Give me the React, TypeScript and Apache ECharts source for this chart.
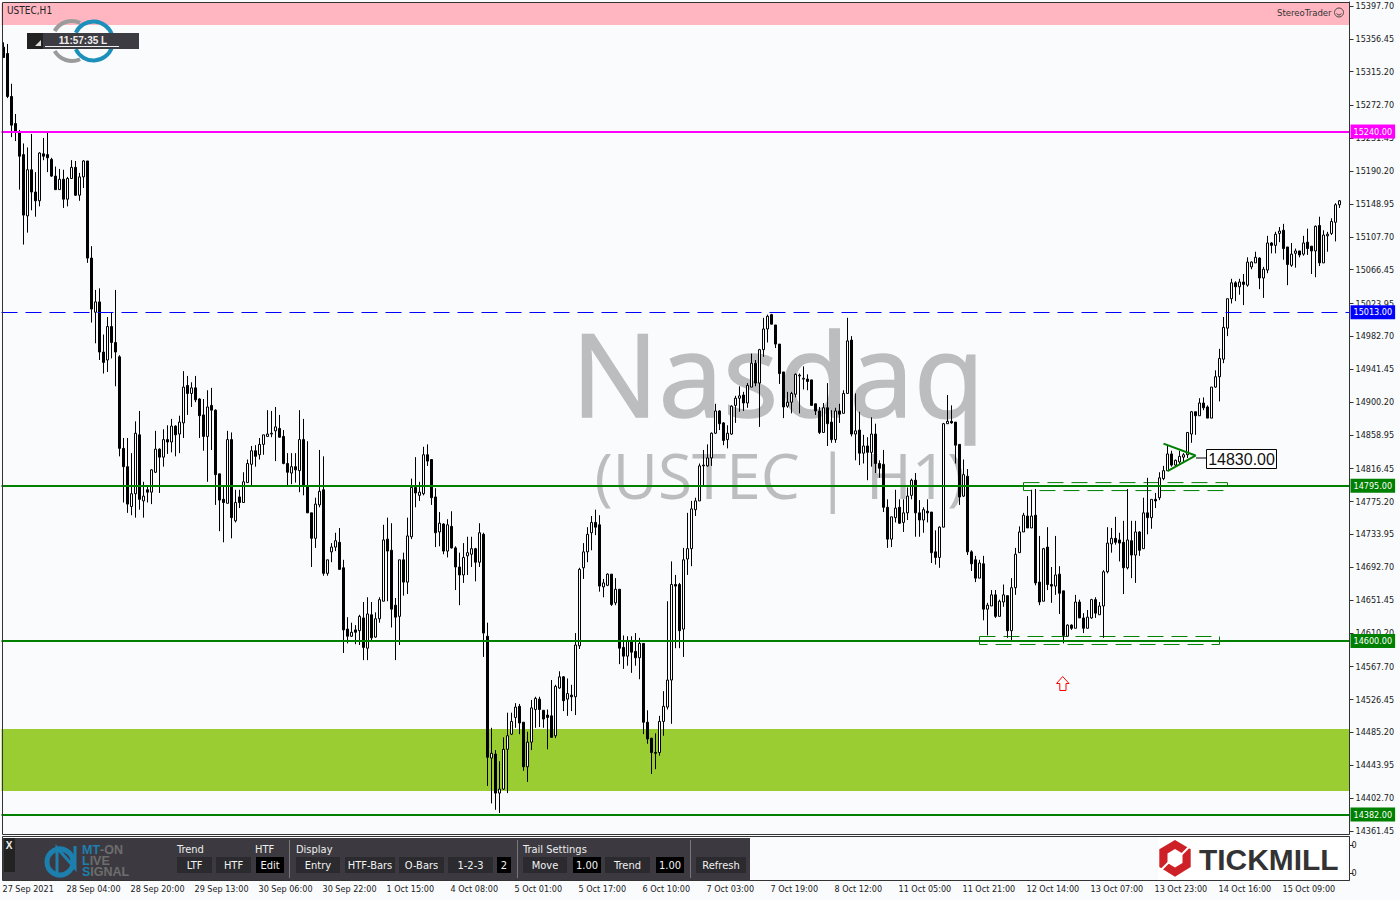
import React, { useEffect, useRef } from "react";
import * as echarts from "echarts";

// [open, close, low, high]
const candlesSep: number[][] = [
[15346,15333,15333,15352],[15338,15284,15282,15350],[15284,15248,15233,15300],[15250,15239,15228,15262],[15239,15209,15167,15242],
[15211,15135,15098,15225],[15134,15192,15113,15220],[15192,15164,15141,15237],[15164,15153,15133,15189],[15153,15213,15146,15214],
[15212,15209,15204,15232],[15211,15207,15189,15240],[15205,15184,15183,15207],[15184,15167,15167,15196],[15167,15180,15167,15193],
[15180,15155,15144,15192],[15155,15181,15146,15183],[15181,15195,15181,15204],[15195,15160,15159,15203],[15160,15183,15153,15188],
[15183,15203,15169,15204],[15203,15081,15075,15203],[15081,15017,15000,15096],[15013,15026,14974,15041],[15026,14963,14953,15043],
[14963,14950,14936,14985],[14953,14995,14938,15007],[14995,14975,14955,15013],[14975,14963,14920,15041],[14957,14842,14832,14959],
[14842,14819,14774,14855],[14819,14772,14761,14855],[14769,14785,14758,14836],[14785,14861,14755,14876],[14859,14778,14765,14889],
[14776,14782,14755,14800],[14790,14787,14774,14796],[14787,14815,14772,14816],[14812,14841,14811,14864],[14841,14831,14786,14842],
[14831,14853,14819,14866],[14853,14850,14835,14871],[14850,14870,14837,14879],[14870,14859,14832,14871],[14860,14875,14836,14883],
[14874,14919,14855,14939],[14921,14911,14884,14933],[14911,14918,14894,14925],[14918,14903,14900,14933],[14904,14883,14855,14905],
[14884,14857,14839,14904],[14857,14894,14800,14915],[14896,14890,14840,14918],[14890,14809,14771,14891],[14810,14777,14738,14810],
[14778,14774,14724,14795],[14773,14853,14773,14864],[14853,14755,14729,14862],[14751,14774,14749,14790],[14781,14774,14767,14790],
[14774,14800,14774,14812],[14799,14823,14799,14828],[14822,14839,14796,14845],[14839,14832,14819,14846],[14834,14847,14828,14855],
[14847,14859,14834,14859],[14857,14860,14857,14890],[14860,14861,14856,14889],[14864,14869,14826,14894],[14867,14856,14856,14884],
[14857,14823,14822,14865],[14823,14812,14796,14836],[14811,14819,14797,14836],[14819,14815,14799,14836],[14814,14853,14787,14890],
[14853,14795,14783,14879],[14795,14761,14761,14851],[14761,14729,14693,14761],[14729,14772,14717,14780],[14771,14788,14768,14840],
[14790,14685,14682,14832],[14685,14702,14682,14702],[14712,14718,14699,14723],[14718,14726,14713,14736],[14724,14690,14690,14742],
[14692,14614,14585,14702],[14615,14606,14597,14630],[14606,14611,14605,14623],[14614,14611,14596,14620],[14613,14631,14595,14633],
[14629,14592,14576,14649],[14591,14634,14576,14655],[14633,14604,14601,14649],[14605,14628,14604,14636],[14628,14652,14623,14655],
[14650,14727,14650,14746],[14728,14713,14650,14755],[14714,14640,14617,14748],[14645,14630,14576,14654],[14631,14702,14595,14702],
[14702,14674,14657,14711],[14674,14732,14659,14755],[14731,14793,14728,14804],[14793,14786,14768,14831],[14783,14787,14776,14800],
[14785,14834,14783,14844],[14834,14826,14820,14847],[14828,14780,14771,14828],[14781,14736,14718,14792],[14737,14748,14719,14762],
[14747,14713,14709,14748],[14713,14746,14705,14753],
];
const candlesOctEarly: number[][] = [
[14744,14717,14716,14763],[14717,14693,14664,14719],[14693,14683,14645,14711],[14683,14705,14673,14723],[14707,14711,14683,14731],
[14709,14716,14693,14731],[14716,14699,14675,14717],[14699,14736,14693,14748],[14734,14610,14580,14736],[14606,14454,14418,14623],
[14453,14459,14396,14491],[14458,14409,14388,14463],[14409,14414,14384,14449],[14414,14464,14413,14479],[14464,14481,14409,14510],
[14483,14499,14482,14510],[14504,14517,14491,14522],[14518,14497,14483,14521],[14498,14442,14437,14498],[14442,14473,14423,14486],
[14473,14516,14463,14526],[14514,14528,14491,14530],[14527,14514,14492,14530],[14513,14502,14491,14513],[14507,14504,14464,14514],
[14506,14479,14479,14551],[14481,14543,14478,14545],[14541,14555,14540,14562],[14555,14525,14512,14556],[14527,14534,14506,14553],
[14532,14530,14512,14545],[14530,14595,14507,14610],[14594,14690,14590,14692],[14692,14712,14678,14723],[14712,14734,14699,14743],
[14736,14749,14714,14757],[14749,14743,14733,14765],[14746,14669,14662,14758],[14668,14673,14655,14678],[14670,14684,14669,14685],
[14684,14646,14644,14684],[14648,14665,14645,14679],[14665,14591,14571,14665],[14592,14581,14565,14607],[14581,14600,14569,14606],
[14599,14586,14560,14606],[14587,14579,14569,14610],[14579,14597,14552,14604],[14597,14498,14483,14597],[14498,14477,14471,14513],
[14478,14460,14433,14478],[14460,14459,14439,14484],[14460,14499,14456,14506],[14499,14518,14481,14537],[14517,14551,14514,14650],
[14551,14671,14496,14700],[14671,14669,14591,14683],[14671,14613,14591,14673],[14615,14702,14580,14717],[14703,14716,14683,14761],
[14716,14766,14694,14776],[14765,14776,14757,14780],[14776,14820,14776,14823],[14820,14821,14796,14840],[14820,14830,14819,14847],
[14830,14861,14820,14862],[14861,14889,14860,14898],[14889,14873,14865,14890],[14874,14852,14846,14875],[14853,14861,14842,14871],
[14860,14895,14859,14896],[14896,14905,14874,14908],[14905,14908,14888,14920],[14909,14899,14889,14913],[14899,14921,14893,14924],
[14919,14949,14919,14961],[14949,14924,14920,14953],[14924,14966,14869,14967],[14966,14992,14957,15006],[14992,15008,14975,15010],
[15010,14998,14998,15011],[14997,14973,14968,14997],[14973,14936,14923,14973],[14938,14894,14880,14938],[14895,14900,14893,14913],
[14900,14911,14886,14913],[14910,14935,14906,14936],[14933,14934,14886,14936],[14929,14930,14916,14945],[14929,14926,14915,14935],
[14928,14896,14896,14928],[14898,14889,14884,14898],[14889,14862,14860,14894],[14862,14893,14862,14899],[14893,14873,14845,14924],
[14875,14853,14849,14890],[14853,14889,14849,14893],[14889,14885,14874,14898],[14886,14911,14886,14915],[14911,14977,14911,15006],
[14978,14860,14857,14983],[14860,14864,14827,14911],[14865,14836,14821,14888],[14836,14845,14823,14859],[14845,14837,14802,14856],
[14837,14860,14819,14881],[14860,14823,14811,14873],[14823,14817,14805,14827],[14822,14768,14762,14840],[14768,14728,14717,14778],
];
const candlesOctLate: number[][] = [
[14728,14756,14718,14756],[14755,14767,14749,14790],[14768,14748,14747,14778],[14749,14761,14737,14778],[14761,14782,14752,14793],
[14783,14802,14778,14804],[14802,14761,14731,14811],[14761,14752,14731,14777],[14752,14765,14736,14768],[14763,14761,14749,14778],
[14762,14711,14698,14762],[14712,14705,14696,14739],[14705,14743,14692,14744],[14743,14873,14743,14874],[14873,14876,14873,14909],
[14876,14874,14873,14896],[14875,14846,14823,14875],[14847,14781,14771,14847],[14782,14809,14781,14828],[14807,14712,14708,14816],
[14712,14697,14688,14714],[14702,14679,14674,14707],[14679,14698,14679,14702],[14697,14640,14626,14707],[14640,14645,14607,14648],
[14644,14658,14644,14664],[14658,14631,14629,14664],[14631,14650,14631,14652],[14649,14658,14643,14671],[14657,14613,14604,14657],
[14613,14667,14601,14679],[14667,14709,14658,14717],[14711,14737,14711,14744],[14737,14758,14737,14761],[14757,14742,14742,14782],
[14742,14757,14742,14790],[14758,14673,14670,14791],[14674,14649,14645,14732],[14650,14716,14650,14717],[14718,14671,14664,14743],
[14671,14669,14648,14693],[14669,14683,14658,14732],[14684,14660,14634,14694],[14663,14607,14597,14663],[14606,14620,14606,14621],
[14620,14616,14614,14621],[14616,14649,14616,14658],[14649,14629,14629,14652],[14629,14616,14610,14635],[14616,14630,14616,14639],
[14629,14652,14628,14653],[14652,14635,14629,14655],[14633,14644,14633,14649],[14644,14687,14604,14689],[14687,14723,14685,14743],
[14722,14729,14711,14742],[14729,14724,14721,14756],[14727,14723,14700,14736],[14724,14692,14659,14751],[14692,14727,14690,14791],
[14726,14708,14679,14751],[14708,14737,14673,14751],[14737,14714,14707,14738],[14716,14761,14716,14780],[14761,14755,14734,14805],
[14755,14778,14741,14778],[14778,14776,14767,14786],[14780,14805,14777,14812],[14804,14814,14802,14820],[14814,14835,14814,14846],
[14835,14821,14819,14839],[14821,14827,14819,14828],[14825,14832,14822,14839],[14831,14834,14825,14836],[14834,14862,14830,14862],
[14860,14888,14849,14889],[14888,14883,14859,14888],[14883,14899,14883,14905],[14899,14893,14890,14906],[14894,14880,14880,14896],
[14880,14919,14880,14919],[14919,14932,14918,14940],[14932,14955,14901,14967],[14954,14994,14949,15007],[14993,15030,14983,15030],
[15030,15050,15024,15055],[15050,15045,15027,15052],[15045,15051,15035,15055],[15051,15048,15022,15061],[15047,15076,15045,15082],
[15070,15076,15067,15077],[15075,15082,15075,15089],[15081,15056,15042,15082],[15056,15067,15031,15070],[15066,15100,15062,15109],
[15100,15097,15087,15101],[15097,15111,15087,15114],[15112,15115,15101,15120],[15116,15093,15079,15124],[15095,15073,15047,15095],
[15072,15086,15070,15100],[15087,15090,15069,15093],[15090,15085,15082,15090],[15086,15100,15084,15109],[15101,15093,15085,15118],
[15096,15090,15061,15096],[15090,15121,15057,15122],[15122,15075,15071,15133],[15075,15110,15075,15116],[15109,15111,15089,15114],
[15112,15127,15110,15131],[15126,15148,15102,15150],[15148,15153,15144,15154],
];
const timeLabels = ["27 Sep 2021","28 Sep 04:00","28 Sep 20:00","29 Sep 13:00","30 Sep 06:00","30 Sep 22:00","1 Oct 15:00","4 Oct 08:00","5 Oct 01:00","5 Oct 17:00","6 Oct 10:00","7 Oct 03:00","7 Oct 19:00","8 Oct 12:00","11 Oct 05:00","11 Oct 21:00","12 Oct 14:00","13 Oct 07:00","13 Oct 23:00","14 Oct 16:00","15 Oct 09:00"];
const priceTicks = [15397.70,15356.45,15315.20,15272.70,15231.45,15190.20,15148.95,15107.70,15066.45,15023.95,14982.70,14941.45,14900.20,14858.95,14816.45,14775.20,14733.95,14692.70,14651.45,14610.20,14567.70,14526.45,14485.20,14443.95,14402.70,14361.45];
const levelPrices = [15240, 15013, 14795, 14600, 14382];
const levelColors = ["#FF00FF", "#0000FF", "#008000", "#008000", "#008000"];
const patternX = [290, 298, 291];
const patternY = [14848, 14833, 14813.5];
const topBand = [15401.4, 15373.8];
const greenBand = [14489.5, 14411.6];
const boxTop = { xFrom: 255, xTo: 306, yFrom: 14799, yTo: 14789 };
const boxBottom = { xFrom: 244, xTo: 304, yFrom: 14605.7, yTo: 14595.6 };
const targetLabel = "14830.00";

const NARROW = "'DejaVu Sans Condensed','Liberation Sans',sans-serif";
const LIB = "'Liberation Sans'";
const BG = "#F9FBFD";
const TXT = "#1a1a1a";
const AX = 9;

const label = (x: number, y: number, text: string, fill: string, fontSize = 10, extra: any = {}) => ({
  type: "text", x, y, z: 100, silent: true,
  style: { text, fill, fontSize, fontFamily: NARROW, verticalAlign: "middle", ...extra },
});
const box = (x: number, y: number, width: number, height: number, fill: string, extra: any = {}) => ({
  type: "rect", z: 100, silent: true, shape: { x, y, width, height }, style: { fill, ...extra },
});
const button = (x: number, w: number, text: string, black = false) => [
  box(x, 857, w, 16, black ? "#000" : "#2b2a2e"),
  label(x + w / 2, 865, text, "#f2f2f2", 11, { align: "center" }),
];
const arc = (cx: number, cy: number, r: number, a0: number, a1: number, stroke: string, lineWidth = 4) => ({
  type: "arc", z: 90, silent: true,
  shape: { cx, cy, r, startAngle: (a0 * Math.PI) / 180, endAngle: (a1 * Math.PI) / 180, clockwise: true },
  style: { stroke, lineWidth, fill: "none" },
});

export default function App() {
  const ref = useRef<HTMLDivElement>(null);
  useEffect(() => {
    const chart = echarts.init(ref.current!, undefined, { renderer: "svg" });
    const candles = [...candlesSep, ...candlesOctEarly, ...candlesOctLate];
    const categories = Array.from({ length: 337 }, (_, i) => (i % 16 === 0 && timeLabels[i / 16]) || "b" + i);

    const graphic: any[] = [
      // watermark
      { type: "text", x: 778, y: 372, z: 0, silent: true, style: { text: "Nasdaq", fill: "#BBBDBF", stroke: "#BBBDBF", lineWidth: 1.5, fontSize: 116, fontFamily: "'Open Sans'", align: "center", verticalAlign: "middle" } },
      { type: "text", x: 780, y: 475, z: 0, silent: true, style: { text: "(USTEC | H1)", fill: "#BBBDBF", fontSize: 62, fontFamily: "'Open Sans'", align: "center", verticalAlign: "middle" } },
      // frames
      box(2.5, 2.5, 1347, 832, "none", { stroke: "#333", lineWidth: 1 }),
      box(2.5, 836.5, 1347, 44, "none", { stroke: "#333", lineWidth: 1 }),
      // header
      label(7, 10.5, "USTEC,H1", "#222", 10),
      label(1277, 12, "StereoTrader", "#333", 9.5),
      { type: "circle", z: 100, silent: true, shape: { cx: 1339, cy: 12.5, r: 4.5 }, style: { fill: "none", stroke: "#444", lineWidth: 1 } },
      { ...arc(1339, 12.5, 2.5, 20, 160, "#444", 1), z: 100 },
      // timer
      arc(72, 41, 20, 210, 294, "#9B9B9B"), arc(72, 41, 20, 66, 150, "#9B9B9B"),
      arc(93.5, 41, 19.5, 205, 340, "#1C8FBB"), arc(93.5, 41, 19.5, 20, 155, "#1C8FBB"),
      box(27, 33, 112, 16, "#3E3C43"),
      box(27, 33, 16, 16, "#222"),
      { type: "polygon", z: 101, silent: true, shape: { points: [[35, 46], [41, 46], [41, 40]] }, style: { fill: "#ddd" } },
      label(83, 40.5, "11:57:35 L", "#eeeeee", 10, { align: "center", fontFamily: LIB, fontWeight: "bold" }),
      box(45, 46, 74, 1, "#eee"),
      // target annotation
      { type: "line", z: 100, silent: true, shape: { x1: 1196, y1: 458, x2: 1207, y2: 458 }, style: { stroke: "#000", lineWidth: 1 } },
      box(1206.5, 449.5, 70, 19, "#fff", { stroke: "#000", lineWidth: 1 }),
      { type: "text", z: 101, silent: true, x: 1241.5, y: 459, style: { text: targetLabel, fill: "#111", fontSize: 16, fontFamily: LIB, align: "center", verticalAlign: "middle" } },
      // arrow
      { type: "polygon", z: 100, silent: true, shape: { points: [[1062.7, 676.5], [1069, 683.5], [1066, 683.5], [1066, 690.5], [1059.8, 690.5], [1059.8, 683.5], [1056.5, 683.5]] }, style: { fill: "#fff", stroke: "#FF0000", lineWidth: 1 } },
      // control panel
      box(3, 838, 747, 42, "#3C3A40"),
      box(4, 838, 11, 34, "#222"),
      label(9, 845, "X", "#eee", 10, { align: "center", fontFamily: LIB, fontWeight: "bold" }),
      { type: "arc", z: 101, silent: true, shape: { cx: 60, cy: 862, r: 13, startAngle: 0, endAngle: 2 * Math.PI }, style: { stroke: "#1C7FAD", lineWidth: 5, fill: "none" } },
      { type: "polyline", z: 102, silent: true, shape: { points: [[57, 873], [57, 848], [75, 868], [75, 846]] }, style: { stroke: "#1C7FAD", lineWidth: 3, fill: "none" } },
      ...[["MT", "-ON", 849.5], ["L", "IVE", 860.5], ["S", "IGNAL", 871.5]].flatMap(([a, b, y]: any) => [
        { type: "text", z: 103, silent: true, x: 82, y, style: { text: `{a|${a}}{b|${b}}`, verticalAlign: "middle", rich: { a: { fill: "#1C7FAD", fontWeight: "bold", fontSize: 12.5, fontFamily: LIB }, b: { fill: "#6D6D6D", fontWeight: "bold", fontSize: 12.5, fontFamily: LIB } } } },
      ]),
      label(177, 849, "Trend", "#eee", 11),
      label(255, 849, "HTF", "#eee", 11),
      label(296, 849, "Display", "#eee", 11),
      label(523, 849, "Trail Settings", "#eee", 11),
      ...button(177, 35, "LTF"), ...button(216, 35, "HTF"), ...button(256, 28, "Edit", true),
      ...button(296, 44, "Entry"), ...button(345, 50, "HTF-Bars"), ...button(399, 45, "O-Bars"),
      ...button(448, 45, "1-2-3"), ...button(497, 14, "2", true),
      ...button(523, 44, "Move"), ...button(573, 28, "1.00", true), ...button(605, 45, "Trend"), ...button(656, 28, "1.00", true),
      ...button(696, 50, "Refresh"),
      box(289, 840, 1, 38, "#777"), box(517, 840, 1, 38, "#777"), box(690, 840, 1, 38, "#777"),
      // Tickmill logo
      box(1158, 837, 188, 43, "#fff"),
      { type: "polygon", z: 101, silent: true, shape: { points: [[1175, 840], [1190.7, 849.3], [1190.7, 867], [1175, 876.7], [1159.3, 867], [1159.3, 849.3]] }, style: { fill: "#CE2127" } },
      { type: "polygon", z: 102, silent: true, shape: { points: [[1175, 849], [1182.5, 853.5], [1182.5, 863], [1175, 867.5], [1167.5, 863], [1167.5, 853.5]] }, style: { fill: "#fff" } },
      { type: "line", z: 103, silent: true, shape: { x1: 1181, y1: 855, x2: 1190, y2: 846 }, style: { stroke: "#fff", lineWidth: 2 } },
      { type: "line", z: 103, silent: true, shape: { x1: 1169, y1: 862, x2: 1160, y2: 871 }, style: { stroke: "#fff", lineWidth: 2 } },
      { type: "text", z: 103, silent: true, x: 1199, y: 859, style: { text: "TICKMILL", fill: "#333333", fontSize: 29.9, fontWeight: "bold", fontFamily: LIB, verticalAlign: "middle" } },
    ];

    chart.setOption({
      animation: false,
      backgroundColor: BG,
      graphic,
      grid: [
        { left: 1.5, width: 1348, top: 2, height: 832, outerBoundsMode: "none" },
        { left: 1.5, width: 1348, top: 837, height: 43, outerBoundsMode: "none" },
      ],
      xAxis: [
        { type: "category", gridIndex: 0, data: categories, show: false },
        {
          type: "category", gridIndex: 1, data: categories, position: "bottom",
          axisLine: { show: false },
          axisTick: { alignWithLabel: true, interval: 15, length: 4, lineStyle: { color: "#333" } },
          axisLabel: { interval: 15, color: TXT, fontFamily: NARROW, fontSize: AX, align: "left", margin: 4, hideOverlap: false, showMaxLabel: false, padding: [0, 0, 0, -1] },
        },
      ],
      yAxis: [
        {
          type: "value", gridIndex: 0, position: "right", min: 14357.6, max: 15402.7, scale: true,
          splitLine: { show: false },
          axisLine: { show: true, lineStyle: { color: "#333" } },
          axisTick: { show: true, length: 4, lineStyle: { color: "#333" }, customValues: priceTicks },
          axisLabel: { color: TXT, fontFamily: NARROW, fontSize: AX, margin: 6, padding: [0, 0, 2, 0], customValues: priceTicks, formatter: (v: number) => v.toFixed(2) },
        },
        {
          type: "value", gridIndex: 1, position: "right", min: 0, max: 43,
          splitLine: { show: false },
          axisLine: { show: true, lineStyle: { color: "#333" } },
          axisTick: { show: true, length: 4, lineStyle: { color: "#333" }, customValues: [7, 35] },
          axisLabel: { color: TXT, fontFamily: NARROW, fontSize: AX, margin: 2, customValues: [7, 35], formatter: () => "0" },
        },
      ],
      series: [
        {
          type: "line", z: 1, data: [], xAxisIndex: 0, yAxisIndex: 0, silent: true,
          markArea: {
            silent: true, itemStyle: { borderWidth: 0 },
            data: [
              [{ yAxis: topBand[0], itemStyle: { color: "#FFB6C1" } }, { yAxis: topBand[1] }],
              [{ yAxis: greenBand[0], itemStyle: { color: "#9ACD32" } }, { yAxis: greenBand[1] }],
            ],
          },
        },
        {
          type: "candlestick", z: 2, xAxisIndex: 0, yAxisIndex: 0, barWidth: 3, silent: true, data: candles,
          itemStyle: { color: "#fff", color0: "#000", borderColor: "#000", borderColor0: "#000", borderWidth: 1 },
        },
        {
          type: "line", z: 5, xAxisIndex: 0, yAxisIndex: 0, silent: true, showSymbol: false, symbol: "none",
          data: patternX.map((x, i) => [x, patternY[i]]),
          lineStyle: { color: "#008000", width: 2 },
          markLine: {
            silent: true, symbol: "none", animation: false,
            data: levelPrices.map((p, i) => ({
              yAxis: p,
              lineStyle: { color: levelColors[i], width: i === 1 ? 1 : 2, type: i === 1 ? [16, 8] : "solid" },
              label: {
                show: true, position: "end", distance: 1, color: "#fff", backgroundColor: levelColors[i],
                fontFamily: NARROW, fontSize: AX, padding: [3, 3, 2, 3], formatter: () => p.toFixed(2),
              },
            })),
          },
          markArea: {
            silent: true,
            data: [boxTop, boxBottom].map((b) => [
              { xAxis: b.xFrom, yAxis: b.yFrom, itemStyle: { color: "rgba(0,0,0,0)", borderColor: "#008000", borderWidth: 1, borderType: [16, 8] } },
              { xAxis: b.xTo, yAxis: b.yTo },
            ]),
          },
        },
        { type: "line", xAxisIndex: 1, yAxisIndex: 1, data: [], silent: true },
      ],
    });
    return () => chart.dispose();
  }, []);
  return <div ref={ref} style={{ position: "absolute", left: 0, top: 0, width: 1400, height: 900 }} />;
}
